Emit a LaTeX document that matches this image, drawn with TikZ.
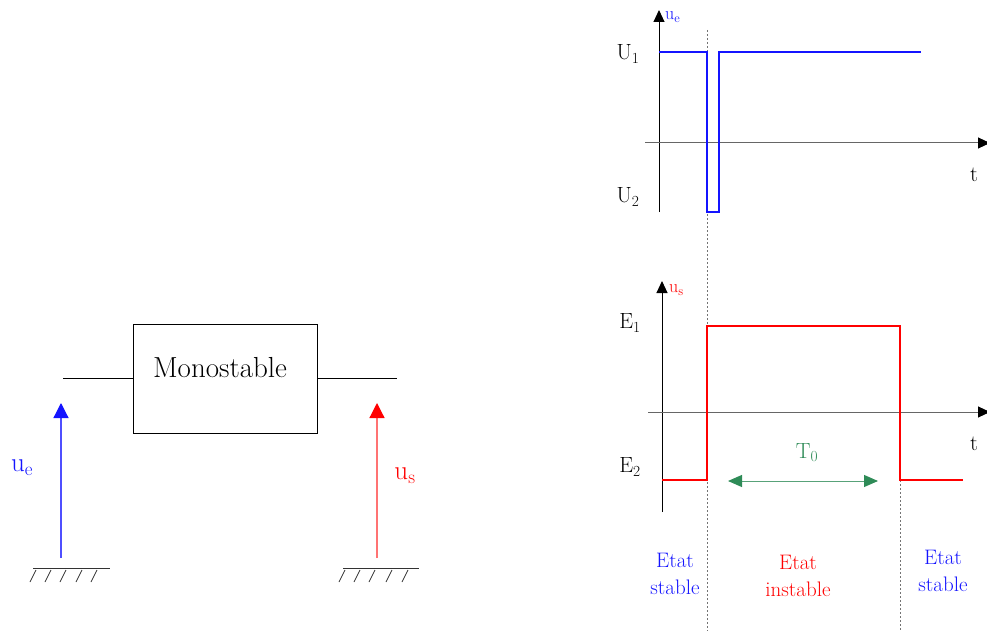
\documentclass[tikz,border=0pt]{standalone}
\usepackage{fontspec}
\usetikzlibrary{arrows.meta}
\definecolor{tgreen}{RGB}{46,139,87}
\definecolor{sblue}{RGB}{20,20,255}
\definecolor{sred}{RGB}{255,0,0}
\begin{document}
\begin{tikzpicture}[x=1pt,y=-1pt,
  lbl/.style={inner sep=0pt, font=\fontsize{22}{24}\selectfont},
  vaxis/.style={line width=1pt, draw=black, -{Triangle[length=12pt,width=11pt]}},
  haxis/.style={line width=1pt, draw=black!60, -{Triangle[length=12pt,width=11pt,color=black]}},
  guide/.style={draw=black!55, line width=0.8pt, dash pattern=on 2pt off 2pt},
  ground/.style={line width=1pt, draw=black!80},
  hatch/.style={line width=0.8pt, draw=black!80},
  sig/.style={line width=2.4pt, line join=miter},
  volt/.style={line width=1.2pt},
  state/.style={inner sep=0pt, align=center, font=\fontsize{21}{27}\selectfont}
]
\useasboundingbox (0,0) rectangle (987,631);

% ---------------- left block diagram ----------------
\node[draw, line width=1.2pt, minimum width=184, minimum height=109, inner sep=0pt, anchor=north west] (mono) at (133,324) {};
\node[anchor=base, inner sep=0pt, font=\fontsize{29}{31}\selectfont] (monolabel) at (220,377) {Monostable};
\coordinate (inL) at (63,378);
\coordinate (outR) at (397,378);
\draw[line width=1pt] (inL) -- (inL -| mono.west);
\draw[line width=1pt] (outR -| mono.east) -- (outR);

% input voltage arrow
\coordinate (ueS) at (61,558);
\coordinate (ueE) at (61,403);
\draw[volt, draw=sblue!75, -{Triangle[length=15pt,width=15pt,color=sblue]}] (ueS) -- (ueE);
\node[inner sep=0pt, text=sblue, font=\fontsize{27}{29}\selectfont] (uelbl) at (22,468) {$\mathrm{u_e}$};
% output voltage arrow
\coordinate (usS) at (377,558);
\coordinate (usE) at (377,403);
\draw[volt, draw=sred!55, -{Triangle[length=15pt,width=15pt,color=sred]}] (usS) -- (usE);
\node[inner sep=0pt, text=sred, font=\fontsize{27}{29}\selectfont] (uslbl) at (405,476) {$\mathrm{u_s}$};

% grounds
\coordinate (gL1) at (33,568); \coordinate (gL2) at (110,568);
\draw[ground] (gL1) -- (gL2);
\foreach \x in {32,47,62,78,93}{\draw[hatch] (\x+4,570) -- (\x-2,582);}
\coordinate (gR1) at (343,568); \coordinate (gR2) at (419,568);
\draw[ground] (gR1) -- (gR2);
\foreach \x in {341,356,371,388,404}{\draw[hatch] (\x+4,570) -- (\x-2,582);}

% ---------------- guide lines ----------------
\coordinate (g1t) at (707,30); \coordinate (g1b) at (707,631);
\coordinate (g2t) at (900,480); \coordinate (g2b) at (900,631);
\draw[guide] (g1t) -- (g1b);
\draw[guide] (g2t) -- (g2b);

% ---------------- top graph ----------------
\coordinate (aO1) at (659,212); \coordinate (aT1) at (659,10);
\coordinate (hL1) at (645,143); \coordinate (hR1) at (990,143);
\draw[vaxis] (aO1) -- (aT1);
\draw[haxis] (hL1) -- (hR1);
\node[anchor=west, inner sep=0pt, text=sblue, font=\fontsize{18}{20}\selectfont] (ueax) at (665,17) {$\mathrm{u_e}$};
\node[lbl] (U1) at (628,54) {$\mathrm{U_1}$};
\node[lbl] (U2) at (628,197) {$\mathrm{U_2}$};
\node[lbl] (t1) at (974,175) {t};
\draw[sig, draw=sblue] (659,52) -- (707,52) -- (707,212) -- (719,212) -- (719,52) -- (921,52);

% ---------------- bottom graph ----------------
\coordinate (aO2) at (662,512); \coordinate (aT2) at (662,281);
\coordinate (hL2) at (648,412); \coordinate (hR2) at (990,412);
\draw[vaxis] (aO2) -- (aT2);
\draw[haxis] (hL2) -- (hR2);
\node[anchor=west, inner sep=0pt, text=sred, font=\fontsize{18}{20}\selectfont] (usax) at (669,290) {$\mathrm{u_s}$};
\node[lbl] (E1) at (630,323) {$\mathrm{E_1}$};
\node[lbl] (E2) at (630,467) {$\mathrm{E_2}$};
\node[lbl] (t2) at (974,444) {t};
\draw[sig, draw=sred, line width=2.2pt] (662,480) -- (707,480) -- (707,326) -- (900,326) -- (900,480) -- (963,480);

% T0 arrow
\coordinate (Ta) at (728,481); \coordinate (Tb) at (878,481);
\draw[draw=tgreen!80, line width=1pt, {Triangle[length=14pt,width=12pt,color=tgreen]}-{Triangle[length=14pt,width=12pt,color=tgreen]}] (Ta) -- (Tb);
\node[lbl, text=tgreen] (T0) at (807,453) {$\mathrm{T_0}$};

% state labels
\node[state, text=sblue] (st1) at (675,574) {Etat\\stable};
\node[state, text=sred] (st2) at (798,576) {Etat\\instable};
\node[state, text=sblue] (st3) at (943,571) {Etat\\stable};
\end{tikzpicture}
\end{document}
